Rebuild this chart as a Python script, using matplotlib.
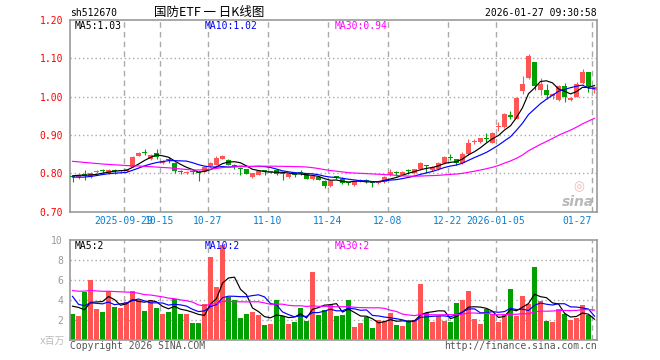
import matplotlib
matplotlib.use("Agg")
import matplotlib.pyplot as plt
import matplotlib.transforms as mtransforms
import numpy as np
import pandas as pd

code = "sh512670"
title = "国防ETF 一 日K线图"
stamp = "2026-01-27 09:30:58"

opens = [0.793, 0.789, 0.797, 0.790, 0.803, 0.809, 0.801, 0.808, 0.805, 0.806,
         0.817, 0.846, 0.856, 0.836, 0.852, 0.827, 0.836, 0.827, 0.806, 0.801,
         0.805, 0.803, 0.804, 0.818, 0.822, 0.838, 0.834, 0.820, 0.814, 0.810,
         0.789, 0.796, 0.807, 0.802, 0.808, 0.800, 0.789, 0.798, 0.802, 0.798,
         0.785, 0.791, 0.780, 0.766, 0.790, 0.786, 0.776, 0.768, 0.780, 0.781,
         0.777, 0.774, 0.776, 0.795, 0.802, 0.796, 0.806, 0.801, 0.811, 0.820,
         0.808, 0.810, 0.826, 0.842, 0.836, 0.826, 0.850, 0.882, 0.882, 0.890,
         0.880, 0.920, 0.920, 0.950, 0.942, 1.015, 1.048, 1.090, 1.018, 1.017,
         1.002, 0.990, 1.028, 0.991, 1.000, 1.036, 1.063, 1.017]
highs = [0.796, 0.799, 0.808, 0.804, 0.809, 0.812, 0.811, 0.810, 0.809, 0.812,
         0.845, 0.856, 0.862, 0.850, 0.862, 0.835, 0.843, 0.830, 0.808, 0.806,
         0.808, 0.806, 0.818, 0.828, 0.845, 0.848, 0.837, 0.823, 0.815, 0.811,
         0.801, 0.808, 0.809, 0.806, 0.810, 0.802, 0.800, 0.800, 0.808, 0.800,
         0.793, 0.793, 0.782, 0.783, 0.793, 0.789, 0.778, 0.777, 0.786, 0.784,
         0.779, 0.779, 0.792, 0.810, 0.806, 0.805, 0.812, 0.812, 0.828, 0.821,
         0.818, 0.828, 0.846, 0.850, 0.838, 0.855, 0.888, 0.888, 0.893, 0.904,
         0.908, 0.933, 0.956, 0.962, 0.998, 1.054, 1.112, 1.091, 1.048, 1.033,
         1.010, 1.030, 1.036, 1.000, 1.038, 1.072, 1.064, 1.026]
lows = [0.776, 0.786, 0.783, 0.787, 0.800, 0.800, 0.799, 0.799, 0.802, 0.803,
        0.815, 0.845, 0.848, 0.834, 0.838, 0.823, 0.826, 0.800, 0.797, 0.799,
        0.797, 0.780, 0.803, 0.817, 0.821, 0.836, 0.821, 0.810, 0.795, 0.797,
        0.788, 0.794, 0.796, 0.800, 0.796, 0.782, 0.787, 0.790, 0.795, 0.784,
        0.783, 0.781, 0.762, 0.765, 0.784, 0.772, 0.768, 0.767, 0.777, 0.775,
        0.763, 0.771, 0.774, 0.793, 0.793, 0.794, 0.797, 0.799, 0.809, 0.800,
        0.806, 0.808, 0.824, 0.834, 0.822, 0.824, 0.848, 0.876, 0.880, 0.882,
        0.878, 0.910, 0.918, 0.942, 0.941, 1.007, 1.046, 1.017, 1.003, 0.993,
        0.993, 0.988, 0.985, 0.989, 0.998, 1.034, 1.013, 1.010]
closes = [0.789, 0.796, 0.793, 0.801, 0.805, 0.805, 0.809, 0.806, 0.808, 0.810,
          0.843, 0.852, 0.853, 0.848, 0.843, 0.831, 0.834, 0.805, 0.803, 0.804,
          0.802, 0.800, 0.815, 0.826, 0.840, 0.844, 0.822, 0.818, 0.812, 0.799,
          0.800, 0.806, 0.805, 0.804, 0.798, 0.798, 0.797, 0.796, 0.801, 0.786,
          0.792, 0.783, 0.767, 0.780, 0.789, 0.775, 0.774, 0.776, 0.782, 0.780,
          0.775, 0.778, 0.790, 0.802, 0.800, 0.803, 0.805, 0.811, 0.826, 0.818,
          0.815, 0.826, 0.843, 0.840, 0.826, 0.851, 0.880, 0.884, 0.892, 0.888,
          0.906, 0.923, 0.954, 0.948, 0.996, 1.034, 1.106, 1.028, 1.034, 1.004,
          1.007, 1.027, 1.000, 0.997, 1.034, 1.063, 1.026, 1.024]
# volume, millions of shares
volumes = [2.64, 2.44, 4.85, 6.05, 3.14, 2.84, 4.92, 3.34, 3.24, 3.85,
           4.92, 4.05, 2.94, 4.05, 3.24, 2.64, 2.84, 4.15, 2.64, 2.64,
           1.74, 1.74, 3.65, 8.26, 5.35, 9.46, 4.35, 4.05, 2.24, 2.64,
           2.84, 2.54, 1.54, 1.64, 4.05, 2.44, 1.64, 1.84, 3.24, 1.94,
           6.76, 2.54, 3.04, 3.50, 2.44, 2.54, 4.05, 1.34, 1.74, 2.34,
           1.24, 2.04, 1.94, 2.74, 1.54, 1.44, 1.94, 2.04, 5.65, 2.74,
           1.84, 2.44, 1.94, 1.84, 3.75, 4.05, 4.95, 2.14, 1.64, 3.14,
           2.64, 1.84, 2.64, 5.15, 2.44, 4.45, 3.65, 7.26, 3.95, 1.94,
           1.84, 3.14, 2.64, 2.04, 2.24, 3.55, 2.54, 0.15]

# sessions before the visible window (feed the moving averages only)
prev_closes = [0.835, 0.838, 0.842, 0.845, 0.848, 0.840, 0.836, 0.838, 0.841,
               0.862, 0.868, 0.875, 0.878, 0.872, 0.865,
               0.858, 0.852, 0.848, 0.845, 0.842,
               0.800, 0.790, 0.785, 0.782, 0.778,
               0.788, 0.792, 0.798, 0.798]
prev_volumes = [4.2, 4.8, 3.9, 4.5, 4.1, 4.6, 4.3, 4.0, 4.8,
                5.5, 6.8, 7.2, 5.1, 6.0, 5.4, 6.6, 5.8, 6.3, 5.2, 5.7,
                10.4, 6.25, 3.2, 3.6, 3.4,
                3.04, 6.05, 2.35, 2.92]

tick_idx = [9, 15, 23, 33, 43, 53, 63, 71, 87]
tick_labels = ["2025-09-29", "10-15", "10-27", "11-10", "11-24",
               "12-08", "12-22", "2026-01-05", "01-27"]

ma_windows = [5, 10, 30]
ma_colors = ["black", "#0000ff", "#ff00ff"]
UP, DOWN = "#ff5555", "#00a000"
GRID = "#aaaaaa"
MONO = ["DejaVu Sans Mono", "Noto Sans CJK SC"]


def rolling(prev, vals, n):
    s = pd.Series(list(prev) + list(vals))
    return s.rolling(n).mean().to_numpy()[len(prev):]


def style_axes(ax):
    for sp in ax.spines.values():
        sp.set_color("#999999")
        sp.set_linewidth(1.2)
    ax.set_xlim(-2.5 / 6, 87 + 2.5 / 6)
    ax.set_xticks([])
    ax.tick_params(axis="y", length=0, pad=5, labelsize=7)
    for t in ax.get_yticklabels():
        t.set_family(MONO)
    for i in tick_idx:
        ax.axvline(i - 2.5 / 6, color=GRID, lw=1, ls=(0, (4, 3)), zorder=0)


n = len(closes)
x = np.arange(n)
o, h, l, c = map(np.array, (opens, highs, lows, closes))
vol = np.array(volumes)
colors = [UP if cc >= oo else DOWN for oo, cc in zip(o, c)]

fig = plt.figure(figsize=(6.6, 3.6), dpi=100)
ax = fig.add_axes([70 / 660, 1 - 211.5 / 360, 527 / 660, 191.5 / 360])
axv = fig.add_axes([70 / 660, 1 - 340.3 / 360, 527 / 660, 100.3 / 360])

# ── price panel ──────────────────────────────────────────────────────────────
style_axes(ax)
ax.set_ylim(0.70, 1.20)
ax.set_yticks([0.70, 0.80, 0.90, 1.00, 1.10, 1.20])
ax.set_yticklabels([f"{v:.2f}" for v in [0.70, 0.80, 0.90, 1.00, 1.10, 1.20]],
                   color="red")
for v in [0.80, 0.90, 1.00, 1.10]:
    ax.axhline(v, color=GRID, lw=1, ls=(0, (1, 2)), zorder=0)

ax.vlines(x, l, h, colors=colors, lw=0.8, zorder=2)
body = np.maximum(np.abs(c - o), 0.0028)
ax.bar(x, body, bottom=np.minimum(o, c), width=5 / 6, color=colors,
       linewidth=0, zorder=3)

for w, col in zip(ma_windows, ma_colors):
    ma = rolling(prev_closes, closes, w)
    ax.plot(x, ma, color=col, lw=0.85, zorder=4)
ma_last = [rolling(prev_closes, closes, w)[-1] for w in ma_windows]
for w, col, xp, v in zip(ma_windows, ma_colors, [0.008, 0.256, 0.503], ma_last):
    ax.text(xp, 0.969, f"MA{w}:{v:.2f}", transform=ax.transAxes, color=col,
            fontsize=7, family=MONO, va="center", ha="left")

trans = mtransforms.blended_transform_factory(ax.transData, ax.transAxes)
for i, lab in zip(tick_idx, tick_labels):
    ha = "right" if i == tick_idx[-1] else "center"
    ax.text(i - 2.5 / 6, -0.05, lab, transform=trans, ha=ha, va="center",
            color="#0a7fd0", fontsize=7, family=MONO)

# watermark
ax.text(0.975, 0.13, "◎", transform=ax.transAxes, color="#f6b0b0",
        fontsize=9, ha="right", va="center", fontweight="bold")
ax.text(0.995, 0.05, "sina", transform=ax.transAxes, color="#b8b8b8",
        fontsize=10, ha="right", va="center", style="italic",
        fontweight="bold")

# ── volume panel ─────────────────────────────────────────────────────────────
style_axes(axv)
axv.set_ylim(0, 10)
axv.set_yticks([2, 4, 6, 8, 10])
axv.set_yticklabels(["2", "4", "6", "8", "10"], color="#999999")
for v in [2, 4, 6, 8]:
    axv.axhline(v, color=GRID, lw=1, ls=(0, (1, 2)), zorder=0)
axv.bar(x, vol, width=5 / 6, color=colors, linewidth=0, zorder=2)
for w, col in zip(ma_windows, ma_colors):
    axv.plot(x, rolling(prev_volumes, volumes, w), color=col, lw=0.85, zorder=3)
vol_last = ["2", "2", "2"]
for w, col, xp, v in zip(ma_windows, ma_colors, [0.008, 0.256, 0.503], vol_last):
    axv.text(xp, 0.94, f"MA{w}:{v}", transform=axv.transAxes, color=col,
             fontsize=7, family=MONO, va="center", ha="left")

# ── header / footer ──────────────────────────────────────────────────────────
fig.text(70 / 660, 1 - 13 / 360, code, fontsize=7, family=MONO, va="center")
fig.text(209 / 660, 1 - 12 / 360, title, fontsize=9,
         family=["Noto Sans CJK SC", "DejaVu Sans"], ha="center", va="center")
fig.text(597 / 660, 1 - 13 / 360, stamp, fontsize=7, family=MONO,
         ha="right", va="center")
fig.text(65 / 660, 1 - 341 / 360, "x百万", fontsize=7, family=MONO,
         ha="right", va="center", color="#bbbbbb")
fig.text(70 / 660, 1 - 346 / 360, "Copyright 2026 SINA.COM", fontsize=7,
         family=MONO, va="center", color="#555555")
fig.text(597 / 660, 1 - 346 / 360, "http://finance.sina.com.cn", fontsize=7,
         family=MONO, ha="right", va="center", color="#555555")

fig.savefig("out.png", dpi=100)
plt.close(fig)
